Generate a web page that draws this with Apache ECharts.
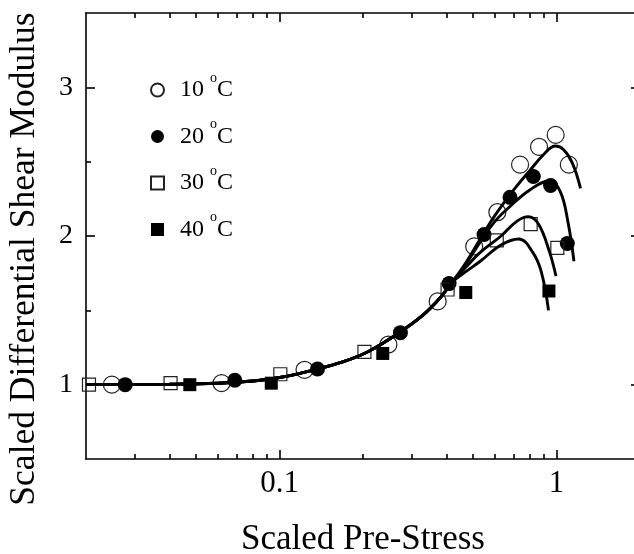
<!DOCTYPE html>
<html>
<head>
<meta charset="utf-8">
<script src="https://cdn.jsdelivr.net/npm/echarts@6/dist/echarts.min.js"></script>
<style>
  html, body { margin: 0; padding: 0; background: #fff; }
  #main { width: 634px; height: 554px; }
</style>
</head>
<body>
<div id="main"></div>
<script>
// measured points [scaled pre-stress, scaled modulus]
var pts10 = [[0.0248,1.0],[0.0617,1.01],[0.123,1.10],[0.247,1.27],[0.372,1.56],[0.504,1.93],[0.611,2.16],[0.738,2.48],[0.864,2.60],[0.992,2.68],[1.107,2.48]];
var pts20 = [[0.0277,1.0],[0.0689,1.03],[0.137,1.105],[0.273,1.35],[0.409,1.68],[0.547,2.01],[0.679,2.26],[0.824,2.40],[0.951,2.34],[1.093,1.95]];
var pts30 = [[0.0205,1.0],[0.0404,1.01],[0.1006,1.07],[0.2024,1.22],[0.404,1.64],[0.608,1.97],[0.806,2.08],[1.006,1.92]];
var pts40 = [[0.0474,1.0],[0.0933,1.01],[0.2357,1.21],[0.470,1.62],[0.938,1.63]];

// fitted curves (shared low part + separate tails)
var fitBase = [[0.02,1.0],[0.04,1.003],[0.06,1.01],[0.08,1.025],[0.1,1.048],[0.13,1.095],[0.17,1.155],[0.21,1.225],[0.27,1.35],[0.33,1.47],[0.38,1.585],[0.42,1.69]];
var fitTail10 = [[0.47,1.82],[0.53,1.98],[0.6,2.14],[0.7,2.31],[0.8,2.44],[0.9,2.55],[0.99,2.605],[1.06,2.58],[1.14,2.49],[1.22,2.32]];
var fitTail20 = [[0.47,1.81],[0.53,1.96],[0.6,2.10],[0.68,2.20],[0.8,2.31],[0.94,2.37],[1.03,2.30],[1.1,2.09],[1.155,1.83]];
var fitTail30 = [[0.47,1.79],[0.53,1.89],[0.63,2.0],[0.72,2.10],[0.79,2.13],[0.86,2.08],[0.94,1.90],[0.995,1.73]];
var fitTail40 = [[0.47,1.76],[0.53,1.83],[0.63,1.94],[0.73,1.98],[0.82,1.89],[0.88,1.76],[0.935,1.50]];

var names = ['10 °C', '20 °C', '30 °C', '40 °C'];
var xMajor = [0.1, 1];
var xMinor = [0.03,0.04,0.05,0.06,0.07,0.08,0.09,0.2,0.3,0.4,0.5,0.6,0.7,0.8,0.9,2];
var xLabels = ['0.1', '1'];
var yMajor = [1, 2, 3];
var yMinor = [1.5, 2.5];
var yLabels = ['1', '2', '3'];

var FONT = 'Liberation Serif';
var chart = echarts.init(document.getElementById('main'));

function xAx(pos, ticks, len, main) {
  return {
    type: 'log', logBase: 10, min: 0.02, max: 2, position: pos,
    axisLine: { show: main, lineStyle: { color: '#000', width: 1.6 } },
    axisTick: { inside: true, length: len, customValues: ticks, lineStyle: { color: '#000', width: 1.6 } },
    axisLabel: {
      show: main && pos === 'bottom', customValues: xMajor, margin: 9,
      fontFamily: FONT, fontSize: 31, color: '#000',
      formatter: function (v) { return xLabels[xMajor.indexOf(v)] || ''; }
    },
    splitLine: { show: false },
    name: main && pos === 'bottom' ? 'Scaled Pre-Stress' : '',
    nameLocation: 'middle', nameGap: 63,
    nameTextStyle: { fontFamily: FONT, fontSize: 35, color: '#000' }
  };
}
function yAx(pos, ticks, len, main) {
  return {
    type: 'value', min: 0.5, max: 3.5, position: pos,
    axisLine: { show: main, lineStyle: { color: '#000', width: 1.6 } },
    axisTick: { inside: true, length: len, customValues: ticks, lineStyle: { color: '#000', width: 1.6 } },
    axisLabel: {
      show: main && pos === 'left', customValues: yMajor, margin: 13,
      fontFamily: FONT, fontSize: 28, color: '#000',
      formatter: function (v) { return yLabels[yMajor.indexOf(v)] || ''; }
    },
    splitLine: { show: false }
  };
}

var openStyle = { color: 'rgba(255,255,255,0)', borderColor: '#222', borderWidth: 1.2, opacity: 1 };
var fillStyle = { color: '#000', opacity: 1 };

function scatter(i, data, symbol, size, style) {
  return { name: names[i], type: 'scatter', data: data, symbol: symbol, symbolSize: size, itemStyle: style, z: 3 };
}
function fit(tail) {
  return { type: 'line', data: fitBase.concat(tail), smooth: 0.4, showSymbol: false, silent: true,
    lineStyle: { color: '#000', width: 2.9 }, z: 4 };
}

chart.setOption({
  animation: false,
  grid: { left: 86, top: 13, width: 554, height: 446, outerBoundsMode: 'none', containLabel: false },
  xAxis: [xAx('bottom', xMajor, 9, true), xAx('bottom', xMinor, 5, false), xAx('top', xMajor, 9, true), xAx('top', xMinor, 5, false)],
  yAxis: [yAx('left', yMajor, 9, true), yAx('left', yMinor, 5, false), yAx('right', yMajor, 9, true), yAx('right', yMinor, 5, false)],
  legend: {
    data: names, orient: 'vertical', left: 145, top: 66, padding: 5,
    itemWidth: 13, itemHeight: 13, itemGap: 8.5,
    textStyle: {
      fontFamily: FONT, fontSize: 24, color: '#000', lineHeight: 38, padding: [0, 0, 0, 11],
      rich: { o: { fontFamily: FONT, fontSize: 14, lineHeight: 14, verticalAlign: 'top' } }
    },
    formatter: function (n) { return n.replace(' °C', ' {o|o}C'); }
  },
  graphic: [{
    type: 'text', x: 25, y: 259, rotation: Math.PI / 2,
    style: { text: 'Scaled Differential Shear Modulus', fontFamily: FONT, fontSize: 35.5, fill: '#000',
      align: 'center', verticalAlign: 'middle' }
  }],
  series: [
    fit(fitTail10), fit(fitTail20), fit(fitTail30), fit(fitTail40),
    scatter(0, pts10, 'circle', 17, openStyle),
    scatter(1, pts20, 'circle', 15, fillStyle),
    scatter(2, pts30, 'rect', 13, openStyle),
    scatter(3, pts40, 'rect', 13, fillStyle)
  ]
});
</script>
</body>
</html>
